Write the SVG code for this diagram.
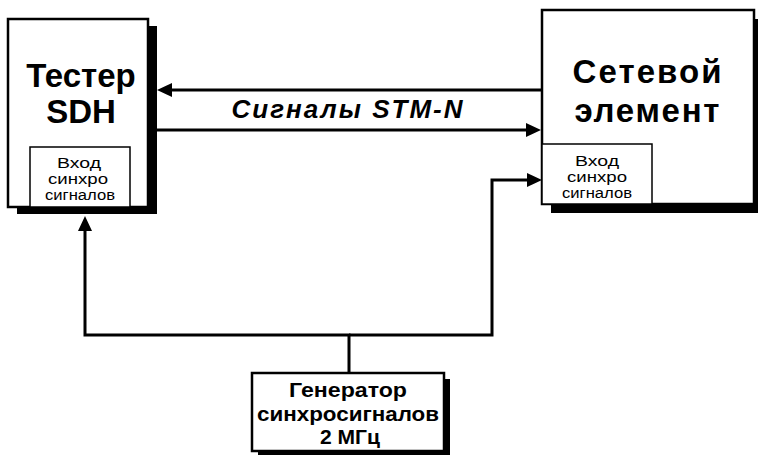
<svg xmlns="http://www.w3.org/2000/svg" width="758" height="455" viewBox="0 0 758 455">
<defs>
<marker id="ah" markerUnits="userSpaceOnUse" markerWidth="16" markerHeight="16" refX="9" refY="7" orient="auto">
<path d="M0,0 L15,7 L0,14 z" fill="#000"/>
</marker>
<style>
.box{fill:#fff;stroke:#000;stroke-width:2.5}
.inner{fill:#fff;stroke:#000;stroke-width:1.5}
.shadow{fill:#000}
.conn{fill:none;stroke:#000;stroke-width:3;stroke-linejoin:miter}
.t{font-family:"Liberation Sans",Arial,sans-serif;text-anchor:middle;fill:#000}
.big{font-size:33px;font-weight:bold}
.small{font-size:14px}
.gen{font-size:21px;font-weight:bold}
.lbl{font-size:26px;font-weight:bold;font-style:italic}
</style>
</defs>
<rect width="758" height="455" fill="#fff"/>

<g id="tester">
<rect class="shadow" x="17" y="26" width="140" height="188"/>
<rect class="box" x="8" y="19" width="140" height="188"/>
<text class="t big" x="81" y="87">Тестер</text>
<text class="t big" x="81" y="123">SDH</text>
<g id="tester-sync">
<rect class="inner" x="30" y="147" width="100" height="60"/>
<text class="t small" x="79" y="168" textLength="44" lengthAdjust="spacingAndGlyphs">Вход</text>
<text class="t small" x="78" y="184" textLength="60" lengthAdjust="spacingAndGlyphs">синхро</text>
<text class="t small" x="80" y="200" textLength="70" lengthAdjust="spacingAndGlyphs">сигналов</text>
</g>
</g>

<g id="network-element">
<rect class="shadow" x="551" y="19" width="212" height="194"/>
<rect class="box" x="542" y="10" width="212" height="194"/>
<text class="t big" x="647" y="83" textLength="149" lengthAdjust="spacing">Сетевой</text>
<text class="t big" x="647" y="122" textLength="145" lengthAdjust="spacing">элемент</text>
<g id="ne-sync">
<rect class="inner" x="542" y="144" width="110" height="60"/>
<text class="t small" x="597" y="166" textLength="44" lengthAdjust="spacingAndGlyphs">Вход</text>
<text class="t small" x="597" y="182" textLength="60" lengthAdjust="spacingAndGlyphs">синхро</text>
<text class="t small" x="597" y="198" textLength="70" lengthAdjust="spacingAndGlyphs">сигналов</text>
</g>
</g>

<g id="generator">
<rect class="shadow" x="258" y="379" width="192" height="78"/>
<rect class="box" x="252" y="373" width="192" height="78"/>
<text class="t gen" x="348" y="397" textLength="118" lengthAdjust="spacingAndGlyphs">Генератор</text>
<text class="t gen" x="348" y="421" textLength="182" lengthAdjust="spacingAndGlyphs">синхросигналов</text>
<text class="t gen" x="350" y="444" textLength="60" lengthAdjust="spacingAndGlyphs">2 МГц</text>
</g>

<g id="connectors">
<path class="conn" d="M542,90 H163" marker-end="url(#ah)"/>
<path class="conn" d="M157,130 H535" marker-end="url(#ah)"/>
<path class="conn" d="M349,373 V335 H85 V222" marker-end="url(#ah)"/>
<path class="conn" d="M349,335 H492 V180 H536" marker-end="url(#ah)"/>
<text class="t lbl" x="347" y="118" textLength="231" lengthAdjust="spacing">Сигналы STM-N</text>
</g>
</svg>
